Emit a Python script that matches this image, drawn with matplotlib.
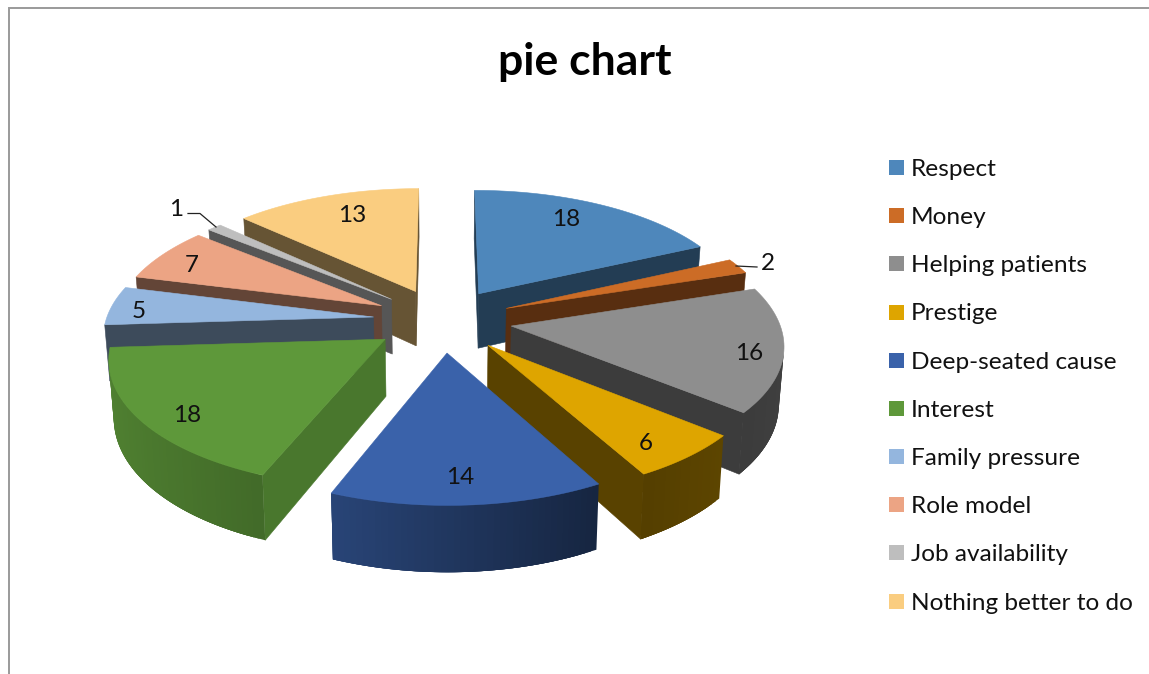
import numpy as np
import matplotlib
matplotlib.use("Agg")
import matplotlib.pyplot as plt
from matplotlib.patches import Polygon, Rectangle

# ---- data ----
categories = ["Respect", "Money", "Helping patients", "Prestige", "Deep-seated cause",
              "Interest", "Family pressure", "Role model", "Job availability", "Nothing better to do"]
values = [18, 2, 16, 6, 14, 18, 5, 7, 1, 13]
title = "pie chart"

# ---- style ----
colors = ["#4E87BB", "#CC6C26", "#8E8E8E", "#DEA500", "#3A62AA",
          "#5E983A", "#94B6DE", "#ECA484", "#BEBEBE", "#FACD80"]
radial_shade = [0.45, 0.43, 0.42, 0.40, 0.40, 0.78, 0.41, 0.42, 0.45, 0.41]
label_xy = [(566, 220), (768, 263), (749, 353), (646, 443), (460, 477),
            (187, 415), (139, 311), (192, 265), (176, 209), (352, 215)]
FONT = "Lato"
CX, CY, S, SK, Q, E, H, BOT, R = 442.5, 320.0, 278.0, 128.0, 0.135, 0.25, 56.0, 0.985, 0.962

fig = plt.figure(figsize=(11.49, 6.74), dpi=100)
ax = fig.add_axes([0, 0, 1, 1])
ax.set_xlim(0, 1149)
ax.set_ylim(674, 0)
ax.axis("off")


def top(X, Y):
    p = 1.0 / (1.0 - Q * Y)
    return CX + S * X * p, CY + SK * Y * p


def bottom(X, Y):
    p = 1.0 / (1.0 - Q * Y)
    x, y = top(X, Y)
    return CX + (x - CX) * BOT, y + H * p


def area(q):
    q = np.asarray(q)
    return np.sum(q[:, 0] * np.roll(q[:, 1], -1) - np.roll(q[:, 0], -1) * q[:, 1])


def shade(c, f):
    return tuple(v * f for v in matplotlib.colors.to_rgb(c))


def quad(pts, col, z, lw=0.4):
    ax.add_patch(Polygon(pts, closed=True, facecolor=col, edgecolor=col if lw else "none", lw=lw, zorder=z))


def rim_shade(t):
    return np.interp(np.sin(t), [-1, -0.37, 0.48, 1], [0.85, 0.70, 0.38, 0.45])


vals = np.asarray(values, float)
edges = np.concatenate([[0], np.cumsum(vals)]) / vals.sum() * 2 * np.pi
mids = (edges[:-1] + edges[1:]) / 2
order = np.argsort(-np.cos(mids))

for rank, i in enumerate(order):
    t1, t2, m = edges[i], edges[i + 1], mids[i]
    ox, oy = E * np.sin(m), -E * np.cos(m)
    ts = np.linspace(t1, t2, max(4, int((t2 - t1) / 0.02)))
    rx, ry = ox + R * np.sin(ts), oy - R * np.cos(ts)
    z = 2 + rank
    col = colors[i]
    a_t, a_b = top(ox, oy), bottom(ox, oy)
    q1 = [a_t, top(rx[0], ry[0]), bottom(rx[0], ry[0]), a_b]
    q2 = [a_t, top(rx[-1], ry[-1]), bottom(rx[-1], ry[-1]), a_b]
    if area(q1) < 0:
        quad(q1, shade(col, radial_shade[i]), z)
    if area(q2) > 0:
        quad(q2, shade(col, radial_shade[i]), z)
    # curved outer wall: each strip overlaps the next ones so no seams show
    n = len(ts)
    for k in range(n - 1):
        e = min(k + 4, n - 1)
        s = [top(rx[k], ry[k]), top(rx[e], ry[e]), bottom(rx[e], ry[e]), bottom(rx[k], ry[k])]
        s_short = [top(rx[k], ry[k]), top(rx[k + 1], ry[k + 1]),
                   bottom(rx[k + 1], ry[k + 1]), bottom(rx[k], ry[k])]
        if area(s_short) < 0:
            quad(s, shade(col, rim_shade((ts[k] + ts[k + 1]) / 2)), z, lw=0)
    quad([a_t] + [top(a, b) for a, b in zip(rx, ry)], col, z)

# data labels and leader lines
for v, (x, y) in zip(values, label_xy):
    ax.text(x, y, str(v), fontsize=17.5, family=FONT, ha="center", va="center", color="#111111", zorder=50)
ax.plot([188, 200, 216], [213.5, 213.5, 227], color="#222222", lw=0.9, zorder=49)
ax.plot([736, 757], [266, 267], color="#222222", lw=0.9, zorder=49)

# title
ax.text(585, 62, title, fontsize=32, family=FONT, weight="bold", ha="center", va="center", color="black")

# legend
rows = np.linspace(167.5, 601, len(categories))
for name, c, y in zip(categories, colors, rows):
    ax.add_patch(Rectangle((889, y - 7.5), 15, 15, facecolor=c, edgecolor="none"))
    ax.text(911, y + 2, name, fontsize=17.6, family=FONT, ha="left", va="center", color="#111111")

# chart frame
ax.plot([8.5, 8.5, 1149], [674, 7.5, 7.5], color="#9A9A9A", lw=1.4, zorder=1, solid_joinstyle="miter")

fig.savefig("out.png", dpi=100)
